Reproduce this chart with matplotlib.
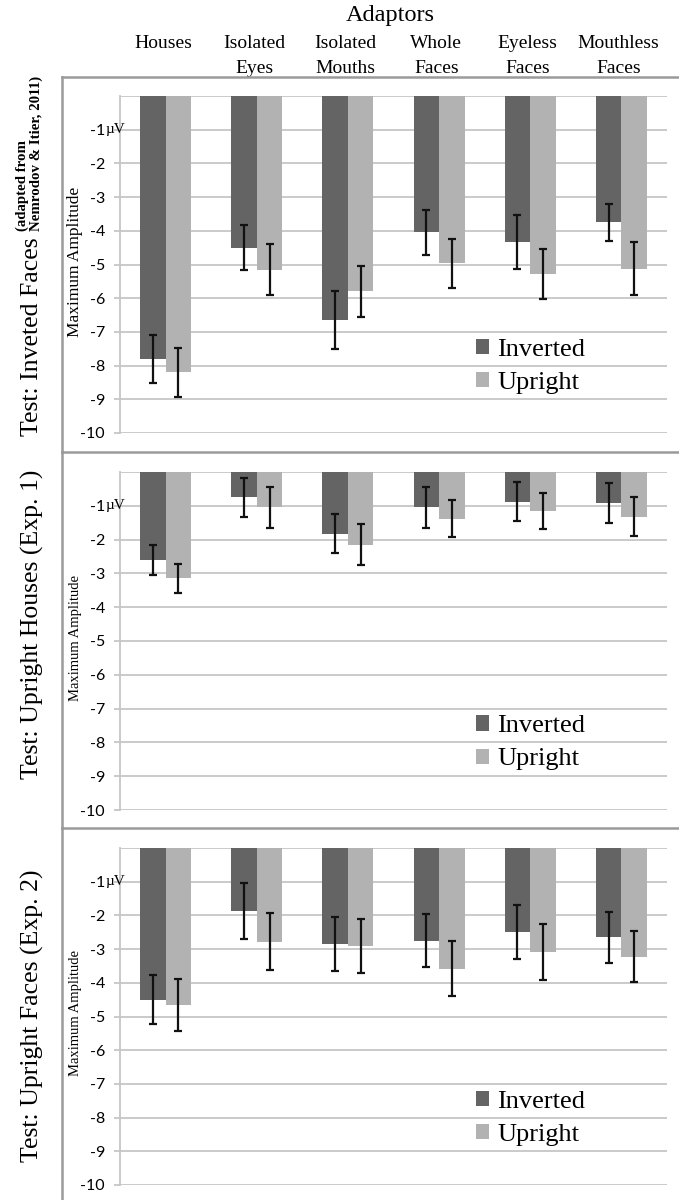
import matplotlib
matplotlib.use("Agg")
import matplotlib.pyplot as plt
import numpy as np
from matplotlib.transforms import blended_transform_factory
from matplotlib.lines import Line2D

# ---------------- data ----------------
categories = ["Houses", "Isolated\nEyes", "Isolated\nMouths", "Whole\nFaces",
              "Eyeless\nFaces", "Mouthless\nFaces"]
conditions = ["Inverted", "Upright"]

inv_p1 = [-7.8, -4.5, -6.65, -4.05, -4.34, -3.75]
inv_p1_err = [0.72, 0.67, 0.86, 0.66, 0.80, 0.55]
upr_p1 = [-8.2, -5.15, -5.8, -4.96, -5.27, -5.12]
upr_p1_err = [0.72, 0.75, 0.75, 0.73, 0.74, 0.79]

inv_p2 = [-2.6, -0.75, -1.82, -1.05, -0.88, -0.92]
inv_p2_err = [0.45, 0.57, 0.57, 0.60, 0.58, 0.58]
upr_p2 = [-3.15, -1.05, -2.15, -1.38, -1.15, -1.32]
upr_p2_err = [0.42, 0.60, 0.60, 0.55, 0.53, 0.58]

inv_p3 = [-4.5, -1.87, -2.85, -2.75, -2.48, -2.65]
inv_p3_err = [0.72, 0.82, 0.80, 0.78, 0.80, 0.75]
upr_p3 = [-4.65, -2.78, -2.92, -3.58, -3.08, -3.22]
upr_p3_err = [0.77, 0.85, 0.80, 0.82, 0.83, 0.77]

panel_titles = ["Test: Inveted Faces", "Test: Upright Houses (Exp. 1)",
                "Test: Upright Faces (Exp. 2)"]
yticks = [-1, -2, -3, -4, -5, -6, -7, -8, -9, -10]
ytick_labels = ["-1", "-2", "-3", "-4", "-5", "-6", "-7", "-8", "-9", "-10"]

panels = [
    (inv_p1, inv_p1_err, upr_p1, upr_p1_err),
    (inv_p2, inv_p2_err, upr_p2, upr_p2_err),
    (inv_p3, inv_p3_err, upr_p3, upr_p3_err),
]

# ---------------- style ----------------
W, H = 679, 1200
SERIF = "Liberation Serif"
SANS = "Lato"
dark = "#646464"
light = "#b2b2b2"
grid_c = "#c6c6c6"
box_c = "#9a9a9a"

fig = plt.figure(figsize=(W / 100, H / 100), dpi=100)


def fx(x):
    return x / W


def fy(y):
    return 1 - y / H


# pixel geometry for each panel: (zero line y, -10 line y, box top, box bottom)
geo = [(96, 433, 77, 452), (472, 810, 452, 828), (848, 1185, 828, 1200)]
title_y = [337, 624, 1016]
ylabel_fs = [12.5, 10.5, 10.5]

ax_left, ax_right = 120, 667
x = np.arange(len(categories))
bw = 0.28

axes = []
for k, ((y0, y10, bt, bb), (inv, inv_e, upr, upr_e)) in enumerate(zip(geo, panels)):
    ax = fig.add_axes([fx(ax_left), fy(y10), (ax_right - ax_left) / W, (y10 - y0) / H])
    axes.append(ax)
    ax.set_xlim(-0.5, len(categories) - 0.5)
    ax.set_ylim(-10, 0)
    ax.set_axisbelow(True)
    for v in [0] + yticks:
        ax.axhline(v, color=grid_c, lw=1.3, zorder=0)
    ax.bar(x - bw / 2, inv, bw, color=dark, label=conditions[0], zorder=2)
    ax.bar(x + bw / 2, upr, bw, color=light, label=conditions[1], zorder=2)
    ax.errorbar(x - bw / 2, inv, yerr=inv_e, fmt="none", ecolor="#111111",
                elinewidth=1.6, capsize=3, capthick=1.6, zorder=3)
    ax.errorbar(x + bw / 2, upr, yerr=upr_e, fmt="none", ecolor="#111111",
                elinewidth=1.6, capsize=3, capthick=1.6, zorder=3)
    for s in ["top", "right", "bottom"]:
        ax.spines[s].set_visible(False)
    ax.spines["left"].set_color(grid_c)
    ax.spines["left"].set_linewidth(1.3)
    ax.set_xticks([])
    ax.set_yticks(yticks)
    ax.set_yticklabels(ytick_labels, fontfamily=SANS, fontsize=11.5)
    ax.tick_params(axis="y", length=4.3, color=grid_c, width=1.3, pad=6.5)
    # µV unit right after the -1 tick label
    unit_trans = blended_transform_factory(fig.transFigure, ax.transData)
    ax.text(fx(106), -1, "\u00b5V", transform=unit_trans, fontfamily=SERIF,
            fontsize=11, ha="left", va="center", zorder=4)
    # y label
    fig.text(fx(75), fy((y0 + y10) / 2 - 3), "Maximum Amplitude", rotation=90,
             fontfamily=SERIF, fontsize=ylabel_fs[k], ha="center", va="center")
    # panel title
    fig.text(fx(32), fy(title_y[k]), panel_titles[k], rotation=90,
             fontfamily=SERIF, fontsize=18.5, ha="center", va="center")
    # legend
    ax.legend(loc="upper left", bbox_to_anchor=((476 - ax_left) / (ax_right - ax_left), 0.28),
              frameon=False, prop={"family": SERIF, "size": 19},
              handlelength=0.5, handleheight=0.5, handletextpad=0.3,
              labelspacing=0.42, borderpad=0, borderaxespad=0)
    # panel box lines
    fig.add_artist(Line2D([fx(62), fx(679)], [fy(bt), fy(bt)], color=box_c, lw=1.8))
    fig.add_artist(Line2D([fx(62), fx(62)], [fy(bt), fy(bb)], color=box_c, lw=1.8))

# attribution note on first panel
fig.text(fx(22), fy(231), "(adapted from", rotation=90, fontfamily=SERIF,
         fontweight="bold", fontsize=10.7, ha="center", va="bottom")
fig.text(fx(36), fy(231), "Nemrodov & Itier, 2011)", rotation=90, fontfamily=SERIF,
         fontweight="bold", fontsize=10.7, ha="center", va="bottom")

# header
fig.text(fx(390), fy(15), "Adaptors", fontfamily=SERIF, fontsize=17.5,
         ha="center", va="center")
trans = blended_transform_factory(axes[0].transData, fig.transFigure)
for xi, lab in zip(x, categories):
    axes[0].text(xi - 0.03, fy(35), lab, transform=trans, fontfamily=SERIF,
                 fontsize=14, ha="center", va="top", linespacing=1.6)

fig.savefig("out.png", dpi=100)
